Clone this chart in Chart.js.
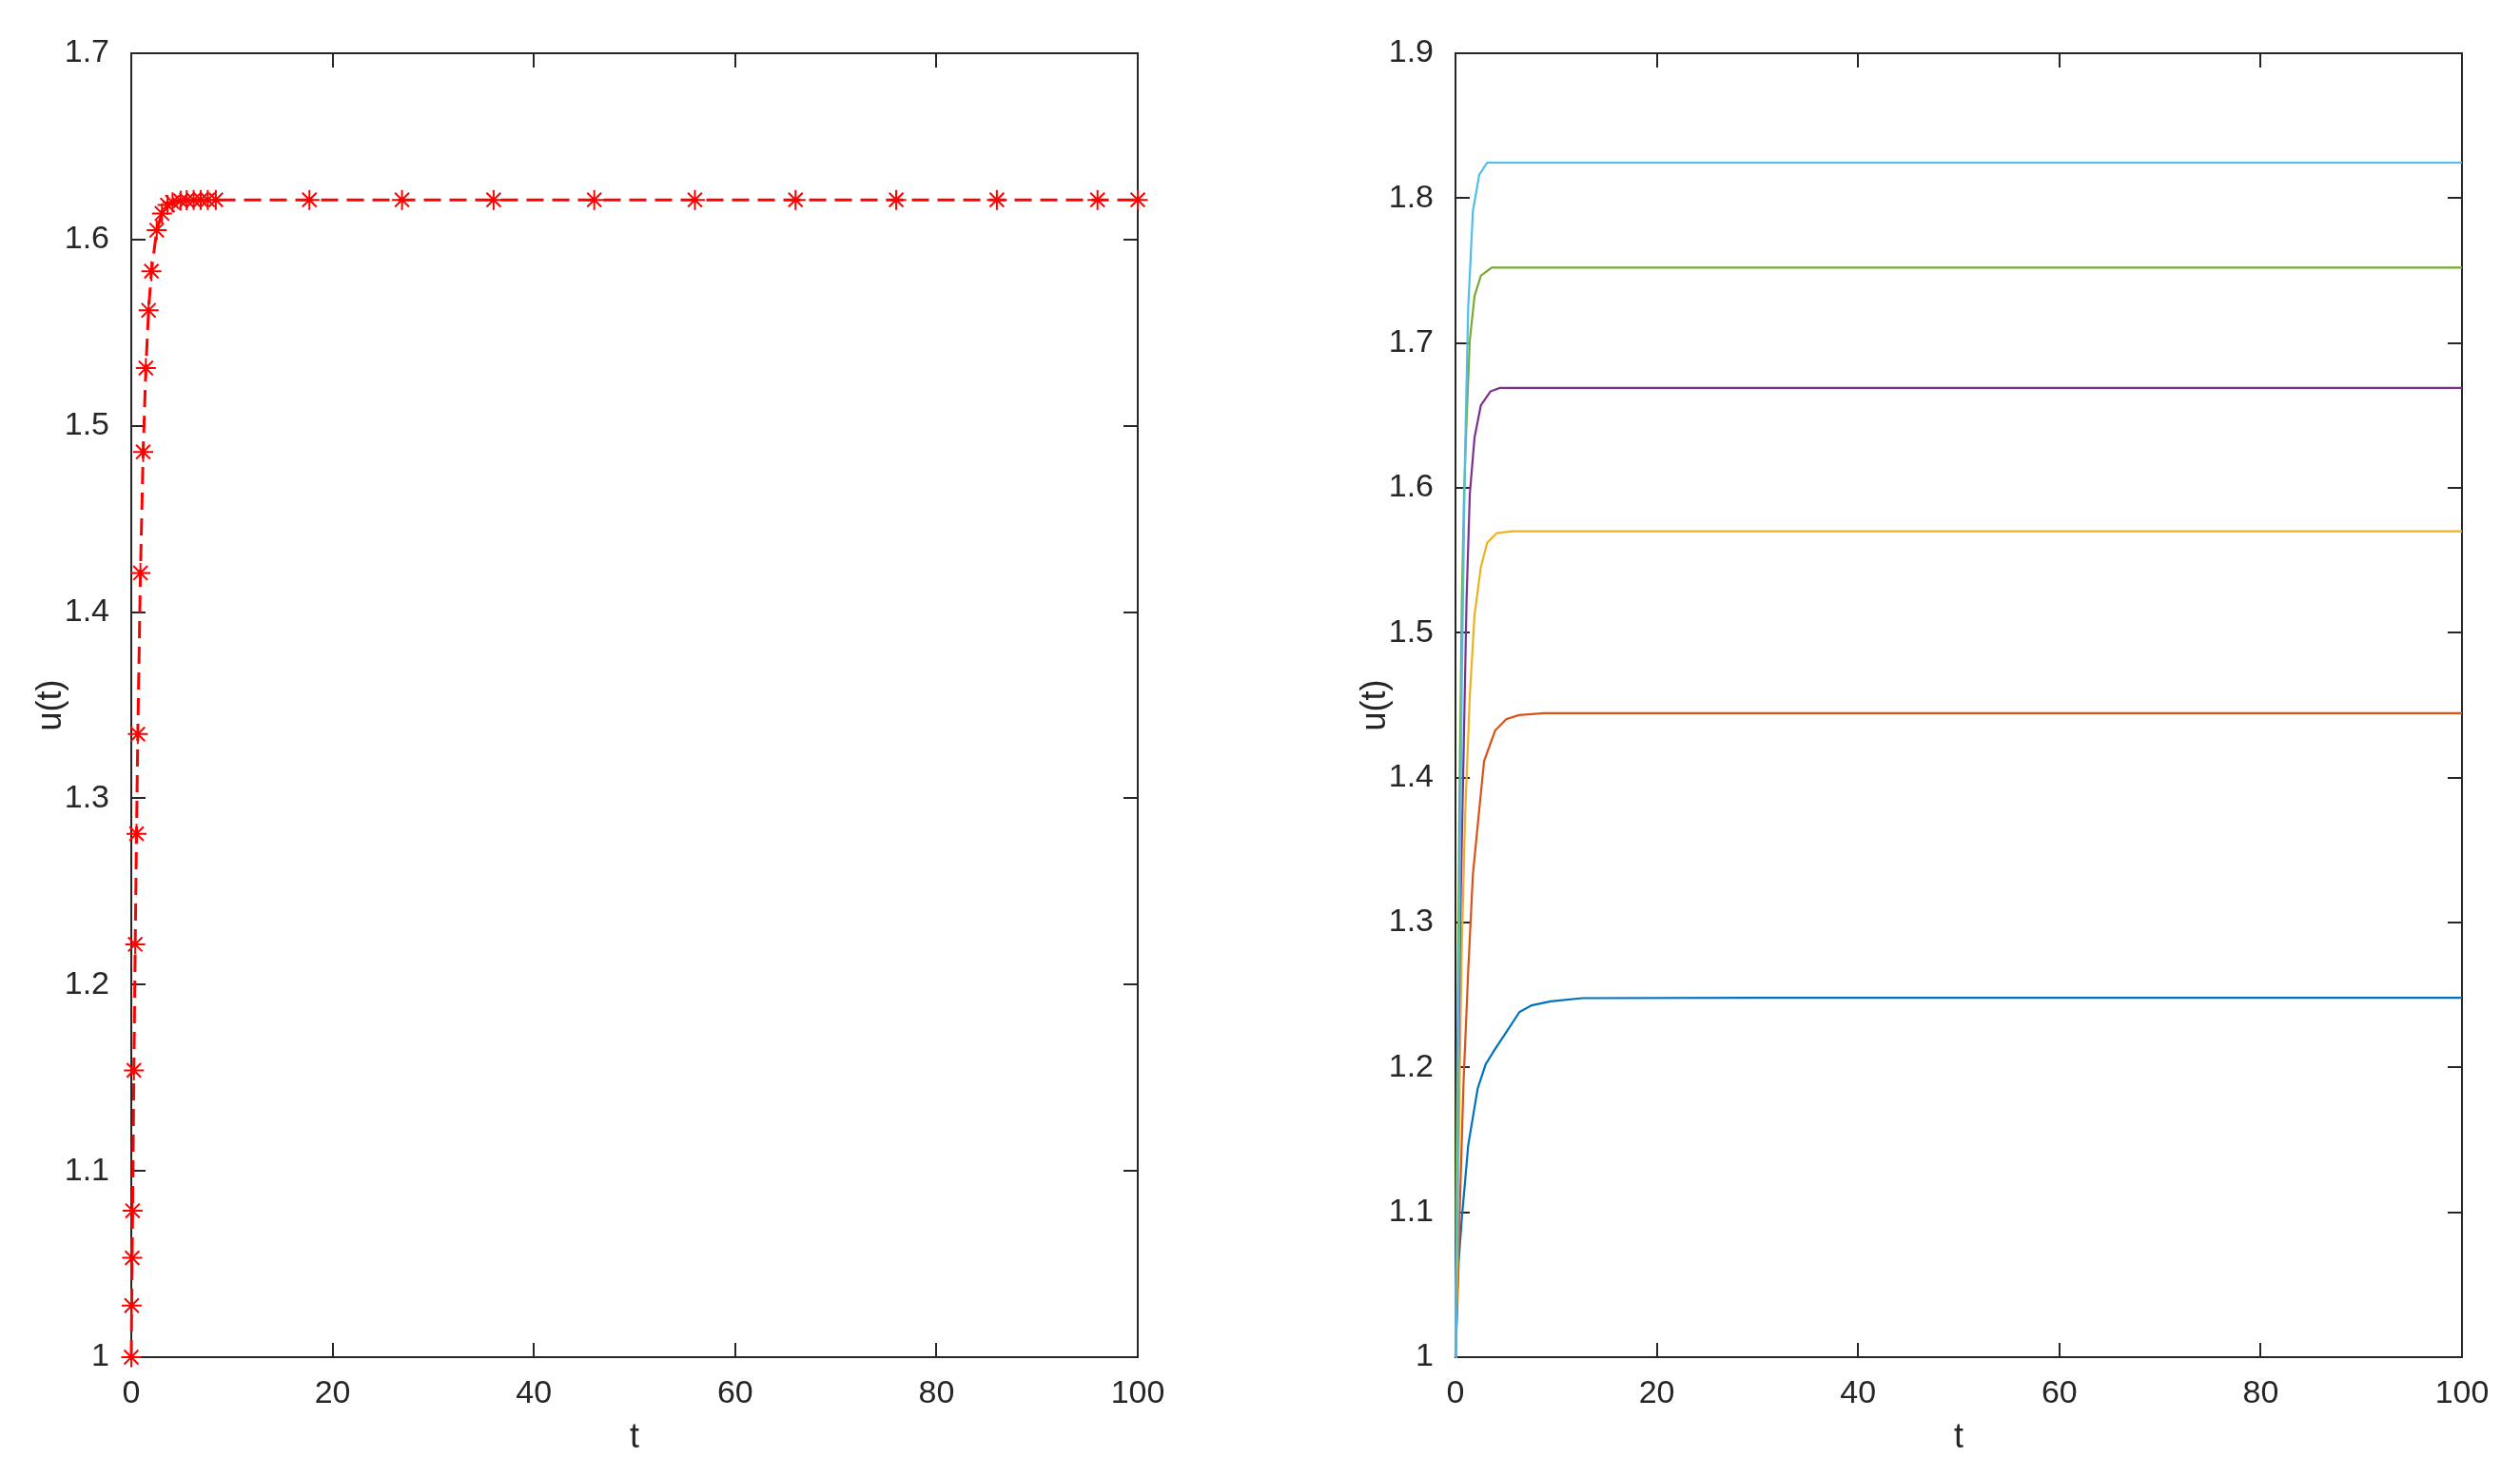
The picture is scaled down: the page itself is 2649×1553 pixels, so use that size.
<!DOCTYPE html>
<html>
<head>
<meta charset="utf-8">
<script src="https://cdn.jsdelivr.net/npm/chart.js@4.4.1/dist/chart.umd.min.js"></script>
<style>
  html, body { margin: 0; padding: 0; background: #ffffff; }
  body { width: 2649px; height: 1553px; position: relative; overflow: hidden; }
  #wrapL { position: absolute; left: 0; top: 0; width: 1392px; height: 1553px; }
  #wrapR { position: absolute; left: 1392px; top: 0; width: 1257px; height: 1553px; }
</style>
</head>
<body>
<div id="wrapL"><canvas id="left"></canvas></div>
<div id="wrapR"><canvas id="right"></canvas></div>
<script>
// ---------- data ----------
const xTicks = [0, 20, 40, 60, 80, 100];
const yTicksLeft = [1, 1.1, 1.2, 1.3, 1.4, 1.5, 1.6, 1.7];
const yTicksRight = [1, 1.1, 1.2, 1.3, 1.4, 1.5, 1.6, 1.7, 1.8, 1.9];

// left panel: red dashed line with asterisks
const tLeft = [0, 0.04, 0.09, 0.13, 0.26, 0.39, 0.52, 0.65, 0.91, 1.18, 1.45, 1.72, 2.0, 2.53, 3.05, 3.6,
               4.1, 4.9, 5.5, 6.2, 6.9, 7.6, 8.4, 17.7, 26.9, 36.0, 46.0, 56.0, 66.0, 76.0, 86.0, 96.0, 100];
const uLeft = [1.0, 1.0277, 1.0533, 1.0786, 1.154, 1.2216, 1.281, 1.3345, 1.421, 1.486, 1.531, 1.562, 1.583, 1.605, 1.614, 1.6185,
               1.6200, 1.6208, 1.6211, 1.6212, 1.6213, 1.6213, 1.6213, 1.6213, 1.6213, 1.6213, 1.6213, 1.6213, 1.6213, 1.6213, 1.6213, 1.6213, 1.6213];

// right panel: six solution curves
const tBlue   = [0, 0.16, 0.31, 0.63, 0.95, 1.26, 1.73, 2.2, 2.99, 3.88, 5.04, 6.36, 7.56, 9.45, 12.6, 30, 60, 100];
const uBlue   = [1.0, 1.0317, 1.0652, 1.0959, 1.121, 1.1462, 1.1657, 1.1853, 1.202, 1.2121, 1.2243, 1.2383, 1.2428, 1.2456, 1.2478, 1.2480, 1.2480, 1.2480];
const tOrange = [0, 0.1, 0.25, 0.41, 0.79, 1.26, 1.73, 2.2, 2.84, 3.94, 5.04, 6.3, 8.8, 30, 60, 100];
const uOrange = [1.0, 1.03, 1.0596, 1.0987, 1.188, 1.2662, 1.3332, 1.3667, 1.4114, 1.4326, 1.4404, 1.4432, 1.4445, 1.4445, 1.4445, 1.4445];
const tYellow = [0, 0.16, 0.31, 0.47, 0.63, 0.95, 1.42, 1.89, 2.52, 3.15, 4.1, 5.67, 30, 60, 100];
const uYellow = [1.0, 1.0485, 1.1378, 1.216, 1.283, 1.3723, 1.456, 1.512, 1.5454, 1.5621, 1.5688, 1.570, 1.570, 1.570, 1.570];
const tPurple = [0, 0.1, 0.26, 0.47, 0.79, 1.1, 1.42, 1.89, 2.52, 3.47, 4.4, 30, 60, 100];
const uPurple = [1.0, 1.076, 1.188, 1.2997, 1.4114, 1.523, 1.5956, 1.6347, 1.657, 1.6666, 1.669, 1.669, 1.669, 1.669];
const tGreen  = [0, 0.06, 0.23, 0.39, 0.63, 0.85, 1.1, 1.42, 1.89, 2.52, 3.6, 30, 60, 100];
const uGreen  = [1.0, 1.104, 1.2439, 1.3835, 1.523, 1.5956, 1.6459, 1.7017, 1.7324, 1.7464, 1.752, 1.752, 1.752, 1.752];
const tCyan   = [0, 0.03, 0.16, 0.31, 0.63, 0.95, 1.26, 1.73, 2.36, 3.15, 30, 60, 100];
const uCyan   = [1.0, 1.0485, 1.0875, 1.2439, 1.4672, 1.6236, 1.7241, 1.7911, 1.8162, 1.8245, 1.8245, 1.8245, 1.8245];

// ---------- helpers ----------
const pts = (t, u) => t.map((v, i) => ({ x: v, y: u[i] }));
const AX = '#262626';
const FONT = 'Liberation Sans, Arial, Helvetica, sans-serif';

const boxTicks = {
  id: 'boxTicks',
  beforeDatasetsDraw(chart) {
    const { ctx, chartArea: a, scales: { x, y } } = chart;
    const L = 15;
    ctx.save();
    ctx.strokeStyle = AX;
    ctx.lineWidth = 2;
    ctx.beginPath();
    x.ticks.forEach(t => {
      const px = Math.round(x.getPixelForValue(t.value));
      ctx.moveTo(px, a.bottom); ctx.lineTo(px, a.bottom - L);
      ctx.moveTo(px, a.top); ctx.lineTo(px, a.top + L);
    });
    y.ticks.forEach(t => {
      const py = Math.round(y.getPixelForValue(t.value));
      ctx.moveTo(a.left, py); ctx.lineTo(a.left + L, py);
      ctx.moveTo(a.right, py); ctx.lineTo(a.right - L, py);
    });
    ctx.stroke();
    ctx.strokeRect(a.left, a.top, a.right - a.left, a.bottom - a.top);
    ctx.restore();
  }
};

function makeOptions(yMin, yMax, yTicks) {
  return {
    responsive: true,
    maintainAspectRatio: false,
    animation: false,
    events: [],
    layout: { padding: { left: 0, top: 56, right: 0, bottom: 0 } },
    plugins: { legend: { display: false }, tooltip: { enabled: false } },
    scales: {
      x: {
        type: 'linear', min: 0, max: 100,
        grid: { display: false },
        border: { display: false },
        afterBuildTicks: s => { s.ticks = xTicks.map(v => ({ value: v })); },
        afterFit: s => { s.height = 126; },
        ticks: { color: AX, padding: 10, font: { family: FONT, size: 34 }, maxRotation: 0,
                 callback: v => String(v) },
        title: { display: true, text: 't', color: AX, font: { family: FONT, size: 36 },
                 padding: { top: 0, bottom: 19 } }
      },
      y: {
        type: 'linear', min: yMin, max: yMax,
        grid: { display: false },
        border: { display: false },
        afterBuildTicks: s => { s.ticks = yTicks.map(v => ({ value: v })); },
        afterFit: s => { s.width = 138; },
        ticks: { color: AX, padding: 15, font: { family: FONT, size: 34 },
                 callback: v => String(Math.round(v * 10) / 10) },
        title: { display: true, text: 'u(t)', color: AX, font: { family: FONT, size: 36 },
                 padding: { top: 32, bottom: 0 } }
      }
    }
  };
}

// ---------- left chart ----------
const optL = makeOptions(1, 1.7, yTicksLeft);
optL.layout.padding.right = 1392 - 1196;
new Chart(document.getElementById('left'), {
  type: 'line',
  data: {
    datasets: [{
      data: pts(tLeft, uLeft),
      borderColor: '#ff0000',
      borderWidth: 3,
      borderDash: [18, 9],
      pointStyle: 'star',
      pointRadius: 10.5,
      pointBorderWidth: 2,
      pointBorderColor: '#ff0000',
      pointBackgroundColor: '#ff0000',
      tension: 0,
      clip: false
    }]
  },
  options: optL,
  plugins: [boxTicks]
});

// ---------- right chart ----------
const optR = makeOptions(1, 1.9, yTicksRight);
optR.layout.padding.right = 1257 - 1196;
const series = [
  [tBlue, uBlue, '#0072BD', 6],
  [tOrange, uOrange, '#D95319', 5],
  [tYellow, uYellow, '#EDB120', 4],
  [tPurple, uPurple, '#7E2F8E', 3],
  [tGreen, uGreen, '#77AC30', 2],
  [tCyan, uCyan, '#4DBEEE', 1]
];
new Chart(document.getElementById('right'), {
  type: 'line',
  data: {
    datasets: series.map(([t, u, c, o]) => ({
      data: pts(t, u),
      borderColor: c,
      borderWidth: 2.2,
      pointRadius: 0,
      tension: 0,
      order: o,
      clip: false
    }))
  },
  options: optR,
  plugins: [boxTicks]
});
</script>
</body>
</html>
